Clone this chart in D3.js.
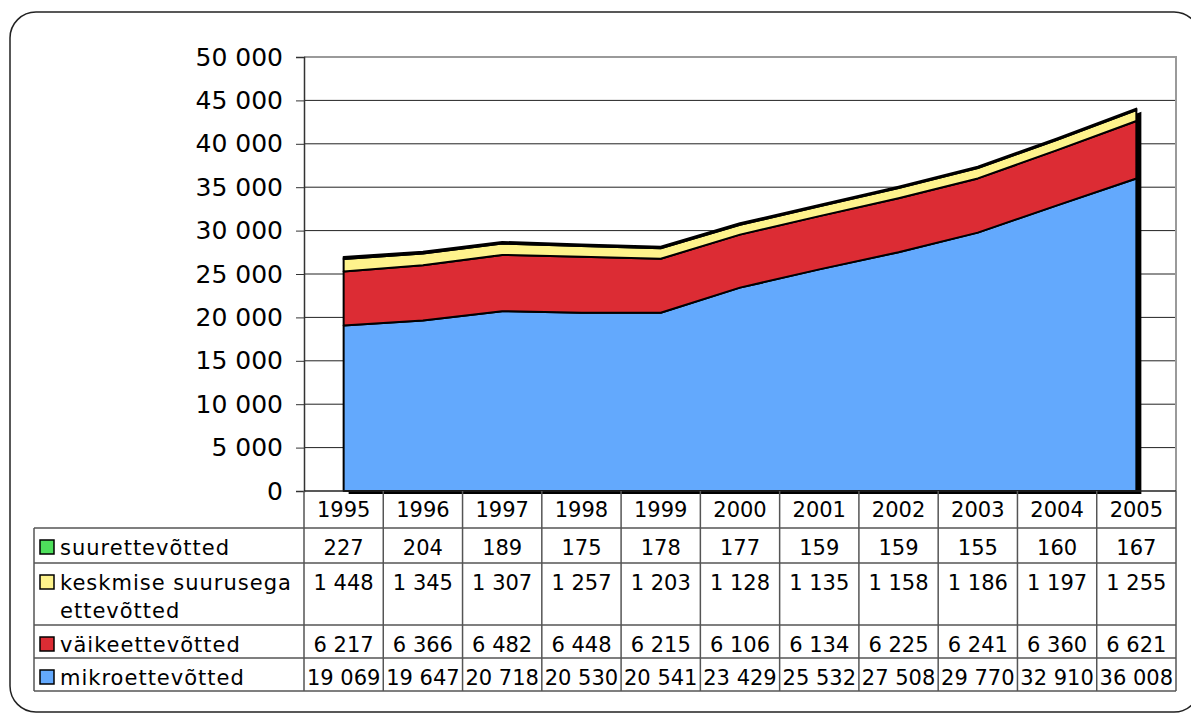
<!DOCTYPE html>
<html>
<head>
<meta charset="utf-8">
<script src="https://cdn.jsdelivr.net/npm/d3@7"></script>
<style>
  body { margin: 0; background: #fff; }
  svg { display: block; font-family: "DejaVu Sans", Verdana, sans-serif; }
</style>
</head>
<body>
<svg id="chart" width="1191" height="713"></svg>
<script>
// data
const years = ['1995', '1996', '1997', '1998', '1999', '2000', '2001', '2002', '2003', '2004', '2005'];
const mikro = [19069, 19647, 20718, 20530, 20541, 23429, 25532, 27508, 29770, 32910, 36008];
const vaike = [6217, 6366, 6482, 6448, 6215, 6106, 6134, 6225, 6241, 6360, 6621];
const keskmise = [1448, 1345, 1307, 1257, 1203, 1128, 1135, 1158, 1186, 1197, 1255];
const suur = [227, 204, 189, 175, 178, 177, 159, 159, 155, 160, 167];
const seriesNames = ['mikroettevõtted', 'väikeettevõtted', 'keskmise suurusega ettevõtted', 'suurettevõtted'];
const yTicks = [0, 5000, 10000, 15000, 20000, 25000, 30000, 35000, 40000, 45000, 50000];

const colors = ['#63a9fd', '#dc2c34', '#fef38c', '#4ee05c'];

const svg = d3.select('#chart');

const plot = { left: 304, right: 1176, top: 57, bottom: 491 };
const tableLeft = 34;
const rowHeights = [37, 35, 62, 33, 33]; // header + 4 series rows

const fmt = d3.formatLocale({ decimal: ',', thousands: '\u00a0', grouping: [3], currency: ['', ''] }).format(',d');

// outer rounded frame
svg.append('rect')
  .attr('x', 10).attr('y', 12)
  .attr('width', 1190).attr('height', 700)
  .attr('rx', 26).attr('ry', 26)
  .attr('fill', 'none')
  .attr('stroke', '#222')
  .attr('stroke-width', 1.5);

const x = d3.scaleBand()
  .domain(years)
  .range([plot.left, plot.right])
  .padding(0);
const xc = d => x(d) + x.bandwidth() / 2;

const y = d3.scaleLinear()
  .domain([0, 50000])
  .range([plot.bottom, plot.top]);

// gridlines
svg.append('g')
  .selectAll('line')
  .data(yTicks.filter(t => t > 0 && t < 50000))
  .join('line')
  .attr('x1', plot.left).attr('x2', plot.right)
  .attr('y1', d => y(d)).attr('y2', d => y(d))
  .attr('stroke', '#222')
  .attr('stroke-width', 1);

// stacked data
const table = years.map((yr, i) => ({ year: yr, s0: mikro[i], s1: vaike[i], s2: keskmise[i], s3: suur[i] }));
const stack = d3.stack().keys(['s0', 's1', 's2', 's3']);
const layers = stack(table);

const area = d3.area()
  .x(d => xc(d.data.year))
  .y0(d => y(d[0]))
  .y1(d => y(d[1]));

// drop shadow of the whole stack
svg.append('clipPath').attr('id', 'plotClip')
  .append('rect')
  .attr('x', plot.left).attr('y', plot.top)
  .attr('width', plot.right - plot.left)
  .attr('height', plot.bottom - plot.top);

svg.append('path')
  .datum(layers[3])
  .attr('clip-path', 'url(#plotClip)')
  .attr('transform', 'translate(5,3)')
  .attr('fill', '#000')
  .attr('d', d3.area().x(d => xc(d.data.year)).y0(y(0)).y1(d => y(d[1])));

svg.append('g')
  .selectAll('path')
  .data(layers)
  .join('path')
  .attr('fill', (d, i) => colors[i])
  .attr('stroke', '#000')
  .attr('stroke-width', 2)
  .attr('stroke-linejoin', 'round')
  .attr('d', area);

// plot frame: top and right in grey
svg.append('path')
  .attr('d', `M${plot.left},${plot.top}H${plot.right}V${plot.bottom}`)
  .attr('fill', 'none')
  .attr('stroke', '#9a9a9a')
  .attr('stroke-width', 2);

// y axis
const yAxis = d3.axisLeft(y)
  .tickValues(yTicks)
  .tickSize(8)
  .tickPadding(13)
  .tickFormat(d => fmt(d));

const yg = svg.append('g')
  .attr('transform', `translate(${plot.left},0)`)
  .call(yAxis);
yg.select('.domain').attr('stroke', '#333').attr('stroke-width', 1.5);
yg.selectAll('.tick line').attr('stroke', '#333');
yg.selectAll('.tick text')
  .attr('font-size', 25)
  .attr('font-family', '"DejaVu Sans", Verdana, sans-serif')
  .attr('fill', '#000');

// data table
const rowTops = [plot.bottom];
rowHeights.forEach(h => rowTops.push(rowTops[rowTops.length - 1] + h));
const tableBottom = rowTops[rowTops.length - 1];
const lineColor = '#555';

const tg = svg.append('g');

// horizontal lines
tg.append('line')
  .attr('x1', plot.left).attr('x2', plot.right)
  .attr('y1', plot.bottom).attr('y2', plot.bottom)
  .attr('stroke', '#222').attr('stroke-width', 1.5);
tg.selectAll('line.h')
  .data(rowTops.slice(1))
  .join('line')
  .attr('class', 'h')
  .attr('x1', tableLeft).attr('x2', plot.right)
  .attr('y1', d => d).attr('y2', d => d)
  .attr('stroke', lineColor).attr('stroke-width', 1.5);

// vertical lines
tg.selectAll('line.v')
  .data(years.map(d => x(d)).concat([plot.right]))
  .join('line')
  .attr('class', 'v')
  .attr('x1', d => d).attr('x2', d => d)
  .attr('y1', plot.bottom).attr('y2', tableBottom)
  .attr('stroke', lineColor).attr('stroke-width', 1.5);
tg.append('line')
  .attr('x1', tableLeft).attr('x2', tableLeft)
  .attr('y1', rowTops[1]).attr('y2', tableBottom)
  .attr('stroke', lineColor).attr('stroke-width', 1.5);

const fontSize = 21;

// year header
tg.selectAll('text.year')
  .data(years)
  .join('text')
  .attr('class', 'year')
  .attr('x', d => xc(d))
  .attr('y', rowTops[0] + 26)
  .attr('text-anchor', 'middle')
  .attr('font-size', fontSize)
  .text(d => d);

// series rows, top row = top of stack
const rows = [
  { name: seriesNames[3], color: colors[3], values: suur },
  { name: seriesNames[2], color: colors[2], values: keskmise },
  { name: seriesNames[1], color: colors[1], values: vaike },
  { name: seriesNames[0], color: colors[0], values: mikro },
];

rows.forEach((r, ri) => {
  const top = rowTops[ri + 1];
  const base = top + 27;
  const g = tg.append('g');
  g.append('rect')
    .attr('x', tableLeft + 6).attr('y', base - 15)
    .attr('width', 14).attr('height', 14)
    .attr('fill', r.color)
    .attr('stroke', '#000').attr('stroke-width', 1.5);

  // wrap the label into the legend column
  const label = g.append('text')
    .attr('x', tableLeft + 26).attr('y', base)
    .attr('font-size', fontSize)
    .attr('letter-spacing', 1);
  const words = r.name.split(' ');
  let line = [];
  let tspan = label.append('tspan').attr('x', tableLeft + 26).attr('dy', 0);
  words.forEach(w => {
    line.push(w);
    tspan.text(line.join(' '));
    if (tspan.node().getComputedTextLength() > plot.left - tableLeft - 30 && line.length > 1) {
      line.pop();
      tspan.text(line.join(' '));
      line = [w];
      tspan = label.append('tspan').attr('x', tableLeft + 26).attr('dy', 28).text(w);
    }
  });

  g.selectAll('text.val')
    .data(r.values)
    .join('text')
    .attr('class', 'val')
    .attr('x', (d, i) => xc(years[i]))
    .attr('y', base)
    .attr('text-anchor', 'middle')
    .attr('font-size', fontSize)
    .text(d => fmt(d));
});
</script>
</body>
</html>
